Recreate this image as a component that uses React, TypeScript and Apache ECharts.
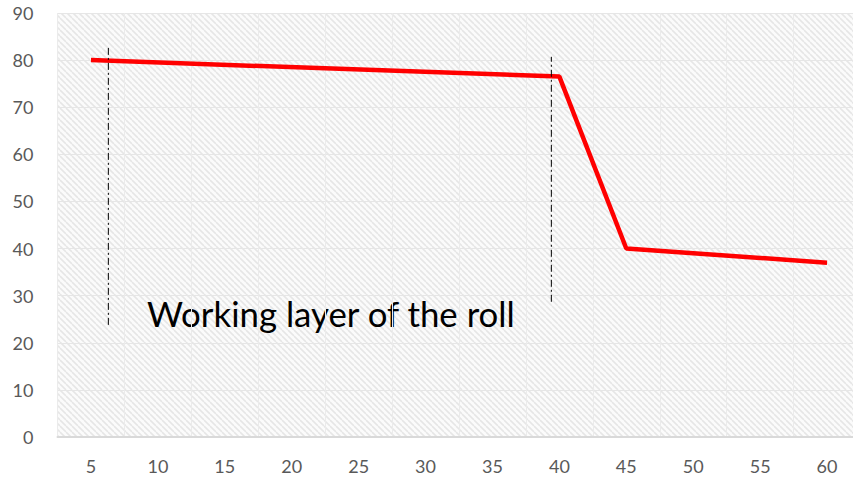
import React, { useEffect, useRef } from "react";
import * as echarts from "echarts";

const categories = ["5", "10", "15", "20", "25", "30", "35", "40", "45", "50", "55", "60"];
const rollValues = [80, null, null, null, null, null, null, 76.5, 40, null, null, 37];
const yTicks = { min: 0, max: 90, interval: 10 };
const markerLeft = [[6.3, 23.8], [6.3, 82.8]];
const markerRight = [[39.4, 28.7], [39.4, 80.7]];
const annotation = "Working layer of the roll";

function makePattern() {
  const c = document.createElement("canvas");
  c.width = 6;
  c.height = 6;
  const ctx = c.getContext("2d")!;
  ctx.fillStyle = "#fbfbfb";
  ctx.fillRect(0, 0, 6, 6);
  ctx.strokeStyle = "#e6e6e6";
  ctx.lineWidth = 1.6;
  for (let k = -6; k <= 12; k += 6) {
    ctx.beginPath();
    ctx.moveTo(k, 0);
    ctx.lineTo(k + 6, 6);
    ctx.stroke();
  }
  return c;
}

export default function App() {
  const ref = useRef<HTMLDivElement>(null);
  useEffect(() => {
    const chart = echarts.init(ref.current!, null, { renderer: "svg" });
    const pattern = { image: makePattern(), repeat: "repeat" };
    chart.setOption({
      animation: false,
      backgroundColor: "#ffffff",
      grid: {
        left: 57.5,
        width: 803,
        top: 13,
        bottom: 45,
        show: true,
        containLabel: false,
        outerBoundsMode: "none",
        backgroundColor: pattern,
        borderWidth: 0,
      },
      xAxis: [
        {
          type: "category",
          data: categories,
          boundaryGap: true,
          axisLine: { show: true, lineStyle: { color: "#d9d9d9", width: 2 } },
          axisTick: { show: false },
          axisLabel: { color: "#595959", fontSize: 18, margin: 20, fontFamily: "Lato, sans-serif" },
          splitLine: { show: true, lineStyle: { color: "#ebebeb", width: 1 } },
        },
        {
          type: "value",
          min: 2.5,
          max: 62.5,
          show: false,
        },
      ],
      yAxis: {
        type: "value",
        min: yTicks.min,
        max: yTicks.max,
        interval: yTicks.interval,
        axisLine: { show: false },
        axisTick: { show: false },
        axisLabel: { color: "#595959", fontSize: 18, margin: 24, fontFamily: "Lato, sans-serif" },
        splitLine: { show: true, lineStyle: { color: "#e6e6e6", width: 1 } },
      },
      series: [
        {
          type: "line",
          data: rollValues,
          connectNulls: true,
          showSymbol: false,
          symbol: "none",
          lineStyle: { color: "#ff0000", width: 4.5 },
        },
        {
          type: "line",
          xAxisIndex: 1,
          data: markerLeft,
          showSymbol: false,
          symbol: "none",
          lineStyle: { color: "#000000", width: 1, type: [7, 3, 2, 3] },
        },
        {
          type: "line",
          xAxisIndex: 1,
          data: markerRight,
          showSymbol: false,
          symbol: "none",
          lineStyle: { color: "#000000", width: 1, type: [7, 3, 2, 3] },
        },
      ],
      graphic: [
        {
          type: "text",
          left: 147,
          top: 296,
          style: {
            text: annotation,
            fill: "#000000",
            fontSize: 34.8,
            fontFamily: "Lato, sans-serif",
          },
        },
      ],
    });
    return () => chart.dispose();
  }, []);
  return <div ref={ref} style={{ width: 853, height: 482, position: "absolute", left: 0, top: 0 }} />;
}
